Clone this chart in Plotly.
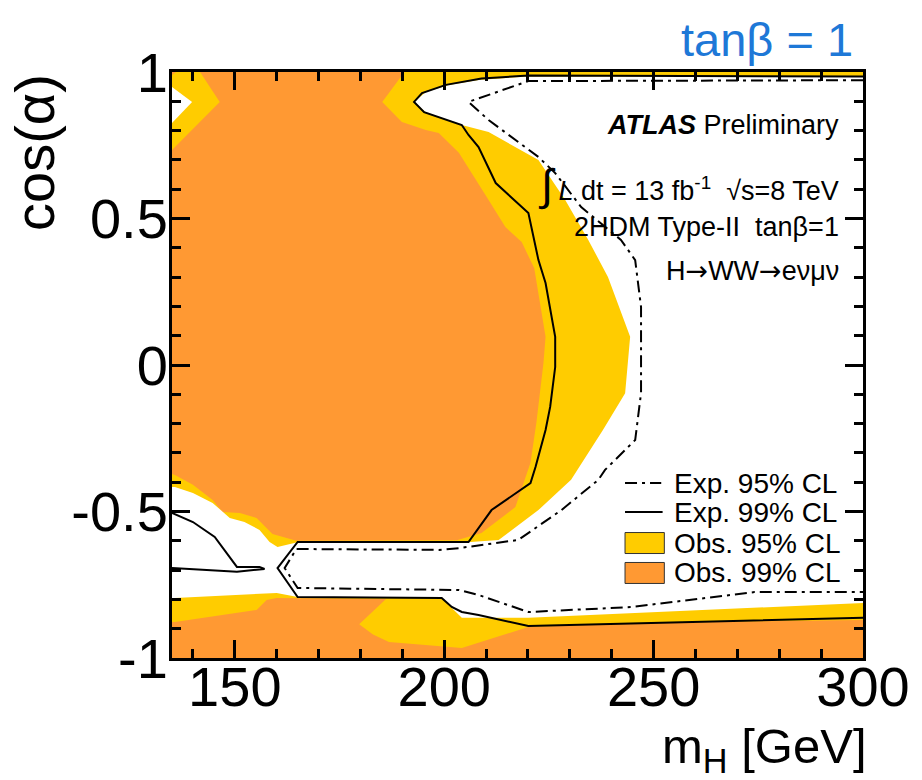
import plotly.graph_objects as go

# ---------------- data (m_H [GeV], cos(alpha)) ----------------
M_RANGE = [135, 300]
COS_RANGE = [-1, 1]

# Areas NOT excluded at 99% CL (yellow = excluded at 95% only, white = allowed)
not99_spot_x = [135, 136, 141.7, 146.4, 135]
not99_spot_y = [0.99, 1.0, 1.0, 0.898, 0.734]

allowed_spot_x = [135, 139.8, 135]
allowed_spot_y = [0.949, 0.898, 0.826]

not99_main_x = [190.5, 185.2, 189.9, 195.6, 198.7, 203.5, 210.6, 214.6, 218.5, 221.5,
                224.2, 223.7, 222.0, 220.6, 217.0, 208.9, 203.0, 164.7, 159.0, 155.2,
                151.2, 147.1, 144.7, 140.0, 135.7, 135, 135, 135.7, 155.2, 157.6,
                160, 186.1, 179.7, 183, 186.8, 200.4, 204.2, 220.1, 246.3, 300, 300]
not99_main_y = [1.0, 0.898, 0.829, 0.802, 0.792, 0.724, 0.563, 0.471, 0.42, 0.33,
                0.096, 0.007, -0.198, -0.334, -0.485, -0.573, -0.598, -0.600, -0.577, -0.522,
                -0.505, -0.502, -0.461, -0.409, -0.375, -0.372, -0.877, -0.877, -0.836, -0.802,
                -0.795, -0.799, -0.885, -0.92, -0.945, -0.962, -0.966, -0.894, -0.881, -0.870, 1.0]

allowed_main_x = [192.8, 195.6, 201.1, 208.2, 220.1, 300, 300, 277.9, 220.1, 204.2,
                  199.4, 165, 160, 135.7, 135, 135, 135.7, 140, 144.7, 148.8,
                  152.3, 155.9, 158.3, 160.2, 164.7, 206.3, 213.0, 222.5, 230.3, 237.9,
                  243.2, 244.4, 239.1, 234.4, 228.9, 222.5, 210.6, 204.2, 195.6]
allowed_main_y = [0.898, 0.932, 0.956, 0.973, 0.985, 0.985, -0.812, -0.826, -0.863, -0.863,
                  -0.795, -0.792, -0.778, -0.795, -0.795, -0.416, -0.416, -0.437, -0.471, -0.522,
                  -0.536, -0.563, -0.604, -0.621, -0.606, -0.604, -0.597, -0.495, -0.392, -0.222,
                  -0.096, 0.096, 0.300, 0.427, 0.563, 0.700, 0.795, 0.819, 0.863]

exp99_main_x = [300, 220.1, 208.9, 204.2, 200.4, 194.7, 192.8, 195.2, 198.7, 204.2,
                205.8, 208.2, 212.3, 220.1, 222.5, 224.2, 226.5, 226.5, 225.3, 224.2,
                221.8, 220.6, 211.3, 206.3, 205.8, 165.0, 160.2, 165.0, 199.4, 201.8,
                204.2, 208.2, 220.1, 300]
exp99_main_y = [0.985, 0.988, 0.978, 0.966, 0.956, 0.928, 0.898, 0.863, 0.846, 0.819,
                0.785, 0.744, 0.621, 0.519, 0.358, 0.280, 0.096, -0.007, -0.143, -0.222,
                -0.348, -0.403, -0.495, -0.597, -0.604, -0.604, -0.693, -0.792, -0.795, -0.826,
                -0.843, -0.853, -0.891, -0.863]

exp99_left_x = [135, 140, 145.2, 150.5, 155.9, 157.1, 150.5, 135]
exp99_left_y = [-0.505, -0.536, -0.587, -0.689, -0.689, -0.696, -0.706, -0.693]

exp95_x = [300, 220.1, 205.8, 210.6, 222.5, 226.5, 232.7, 242.2, 245.6, 247.0,
           247.0, 245.6, 238.4, 236.8, 228.0, 217.7, 203.5, 198.7, 164.7, 161.9,
           165.0, 203.5, 208.2, 220.1, 244.6, 274.1, 300]
exp95_y = [0.972, 0.969, 0.898, 0.836, 0.710, 0.655, 0.539, 0.427, 0.358, 0.198,
           -0.096, -0.256, -0.358, -0.392, -0.495, -0.597, -0.625, -0.631, -0.628, -0.693,
           -0.761, -0.768, -0.785, -0.843, -0.826, -0.775, -0.775]

X_MAJOR_TICKS = [150, 200, 250, 300]
Y_MAJOR_TICKS = [-1, -0.5, 0, 0.5, 1]
Y_TICK_TEXT = ["-1", "-0.5", "0", "0.5", "1"]

LEGEND_LABELS = ["Exp. 95% CL", "Exp. 99% CL", "Obs. 95% CL", "Obs. 99% CL"]

# ---------------- style ----------------
ORANGE = "#FF9933"
YELLOW = "#FFCC00"
FONT = "Liberation Sans, Arial, Helvetica, sans-serif"
DASHDOT = "12px,5px,3px,5px"

fig = go.Figure()

def fill(x, y, color):
    fig.add_trace(go.Scatter(x=x, y=y, mode="lines", fill="toself", fillcolor=color,
                             line=dict(width=0, color=color), hoverinfo="skip",
                             showlegend=False))

rect_x = [M_RANGE[0], M_RANGE[1], M_RANGE[1], M_RANGE[0]]
rect_y = [COS_RANGE[0], COS_RANGE[0], COS_RANGE[1], COS_RANGE[1]]
fill(rect_x, rect_y, ORANGE)                 # observed 99% CL excluded
fill(not99_spot_x, not99_spot_y, YELLOW)
fill(not99_main_x, not99_main_y, YELLOW)     # observed 95% CL excluded only
fill(allowed_spot_x, allowed_spot_y, "white")
fill(allowed_main_x, allowed_main_y, "white")

fig.add_trace(go.Scatter(x=exp95_x, y=exp95_y, mode="lines",
                         line=dict(color="black", width=2, dash=DASHDOT),
                         showlegend=False, hoverinfo="skip"))
fig.add_trace(go.Scatter(x=exp99_main_x, y=exp99_main_y, mode="lines",
                         line=dict(color="black", width=2),
                         showlegend=False, hoverinfo="skip"))
fig.add_trace(go.Scatter(x=exp99_left_x, y=exp99_left_y, mode="lines",
                         line=dict(color="black", width=2),
                         showlegend=False, hoverinfo="skip"))

axis_common = dict(showgrid=False, zeroline=False, showline=True, linecolor="black",
                   linewidth=3, mirror="allticks", ticks="inside", tickwidth=3,
                   ticklen=18, tickcolor="black",
                   tickfont=dict(family=FONT, size=56, color="black"))

fig.update_xaxes(range=M_RANGE, tickvals=X_MAJOR_TICKS, ticklabelstandoff=-22,
                 minor=dict(ticks="inside", dtick=10, tick0=150, ticklen=9, tickwidth=3,
                            tickcolor="black"),
                 **axis_common)
fig.update_yaxes(range=COS_RANGE, tickvals=Y_MAJOR_TICKS, ticktext=Y_TICK_TEXT,
                 ticklabelstandoff=-10,
                 minor=dict(ticks="inside", dtick=0.1, tick0=0, ticklen=9, tickwidth=3,
                            tickcolor="black"),
                 **axis_common)

# ---------------- manual legend (ROOT TLegend look) ----------------
leg_rows_y = [0.2986, 0.2491, 0.1962, 0.1451]
sym_x0, sym_x1, text_x = 0.6556, 0.7125, 0.7235
fig.add_shape(type="line", xref="paper", yref="paper", x0=sym_x0, x1=0.708,
              y0=leg_rows_y[0], y1=leg_rows_y[0], line=dict(color="black", width=2, dash=DASHDOT))
fig.add_shape(type="line", xref="paper", yref="paper", x0=sym_x0, x1=0.710,
              y0=leg_rows_y[1], y1=leg_rows_y[1], line=dict(color="black", width=2))
for yc, col in zip(leg_rows_y[2:], [YELLOW, ORANGE]):
    fig.add_shape(type="rect", xref="paper", yref="paper", x0=sym_x0, x1=sym_x1,
                  y0=yc - 0.0179, y1=yc + 0.0179, fillcolor=col,
                  line=dict(color="#333333", width=1))
for yc, lab in zip(leg_rows_y, LEGEND_LABELS):
    fig.add_annotation(text=lab, xref="paper", yref="paper", x=text_x, y=yc,
                       xanchor="left", yanchor="middle", showarrow=False,
                       font=dict(family=FONT, size=28, color="black"))

ann_font = dict(family=FONT, size=27, color="black")
annotations = [
    dict(text="<b><i>ATLAS</i></b> Preliminary", x=0.968, y=0.909),
    dict(text="<span style='font-size:44px'>∫</span>\u2009<i>L</i> dt = 13 fb<sup>-1</sup>\u00a0\u00a0√s=8 TeV",
         x=0.968, y=0.807),
    dict(text="2HDM Type-II\u00a0\u00a0tanβ=1", x=0.968, y=0.7355),
    dict(text="H<span style='font-family:DejaVu Sans'>→</span>WW<span style='font-family:DejaVu Sans'>→</span>eνμν",
         x=0.968, y=0.662),
]
for a in annotations:
    fig.add_annotation(xref="paper", yref="paper", xanchor="right", yanchor="middle",
                       showarrow=False, font=ann_font, **a)

fig.add_annotation(text="tanβ = 1", xref="paper", yref="paper", x=0.988, y=1.055,
                   xanchor="right", yanchor="middle", showarrow=False,
                   font=dict(family=FONT, size=47, color="#1E78D7"))
fig.add_annotation(text="cos(α)", xref="paper", yref="paper", x=-0.199, y=1.0,
                   xanchor="center", yanchor="top", textangle=-90, showarrow=False,
                   font=dict(family=FONT, size=56, color="black"))
fig.add_annotation(text="m<sub>H</sub> [GeV]", xref="paper", yref="paper", x=1.008, y=-0.156,
                   xanchor="right", yanchor="middle", showarrow=False,
                   font=dict(family=FONT, size=49, color="black"))

fig.update_layout(
    width=922, height=780,
    margin=dict(l=172, r=56, t=72, b=122),
    paper_bgcolor="white", plot_bgcolor="white",
    showlegend=False,
)

fig.write_html("out.html", include_plotlyjs=True, config={"displayModeBar": False})
